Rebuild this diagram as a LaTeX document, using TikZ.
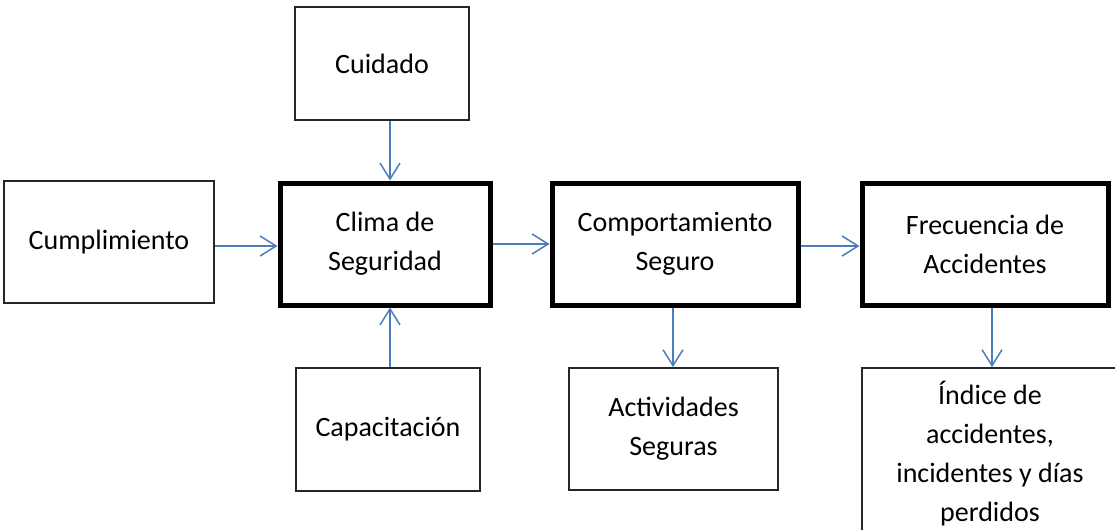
\documentclass[tikz,border=0pt]{standalone}
\usepackage{fontspec}
\setmainfont{Carlito}
\usetikzlibrary{arrows.meta}
\definecolor{arrowblue}{HTML}{4A7EBB}
\definecolor{boxline}{HTML}{262626}
\begin{document}
\begin{tikzpicture}[x=0.5pt,y=-0.5pt,
  every node/.style={font=\fontsize{14pt}{19.5pt}\selectfont, align=center, inner sep=0pt},
  thinbox/.style={draw=boxline, line width=0.9pt},
  thickbox/.style={draw=black, line width=2.5pt},
  conn/.style={draw=arrowblue, line width=0.75pt, -{Straight Barb[length=8pt,width=10pt]}}]
\clip (0,0) rectangle (1115,530);
\fill[white] (0,0) rectangle (1115,530);
\node[thinbox, minimum width=87pt, minimum height=56.5pt] (cuid) at (382,63.5) {Cuidado};
\node[thinbox, minimum width=105pt, minimum height=61pt] (cump) at (109,242) {Cumplimiento};
\node[thickbox, minimum width=105pt, minimum height=61pt] (clima) at (385,244) {Clima de\\Seguridad};
\node[thickbox, minimum width=123pt, minimum height=61pt] (comp) at (675,244) {Comportamiento\\Seguro};
\node[thickbox, minimum width=123pt, minimum height=61pt] (frec) at (985,244) {Frecuencia de\\Accidentes};
\node[thinbox, minimum width=92pt, minimum height=61.5pt] (capa) at (388,429.5) {Capacitación};
\node[thinbox, minimum width=104.5pt, minimum height=61pt] (acti) at (673.5,429) {Actividades\\Seguras};
\node[thinbox, minimum width=128pt, minimum height=85.5pt] (indi) at (990,453.5) {Índice de\\accidentes,\\incidentes y días\\perdidos};
\draw[conn] ([xshift=4pt]cuid.south) -- ([xshift=4pt]cuid.south |- clima.north);
\draw[conn] ([xshift=1pt]capa.north) -- ([xshift=1pt]capa.north |- clima.south);
\draw[conn] ([yshift=-2pt]cump.east) -- ([yshift=-2pt]cump.east -| clima.west);
\draw[conn] (clima.east) -- (comp.west);
\draw[conn] ([yshift=-1pt]comp.east) -- ([yshift=-1pt]comp.east -| frec.west);
\draw[conn] ([xshift=-0.25pt]acti.north |- comp.south) -- ([xshift=-0.25pt]acti.north);
\draw[conn] ([xshift=1pt]indi.north |- frec.south) -- ([xshift=1pt]indi.north);
\end{tikzpicture}
\end{document}
